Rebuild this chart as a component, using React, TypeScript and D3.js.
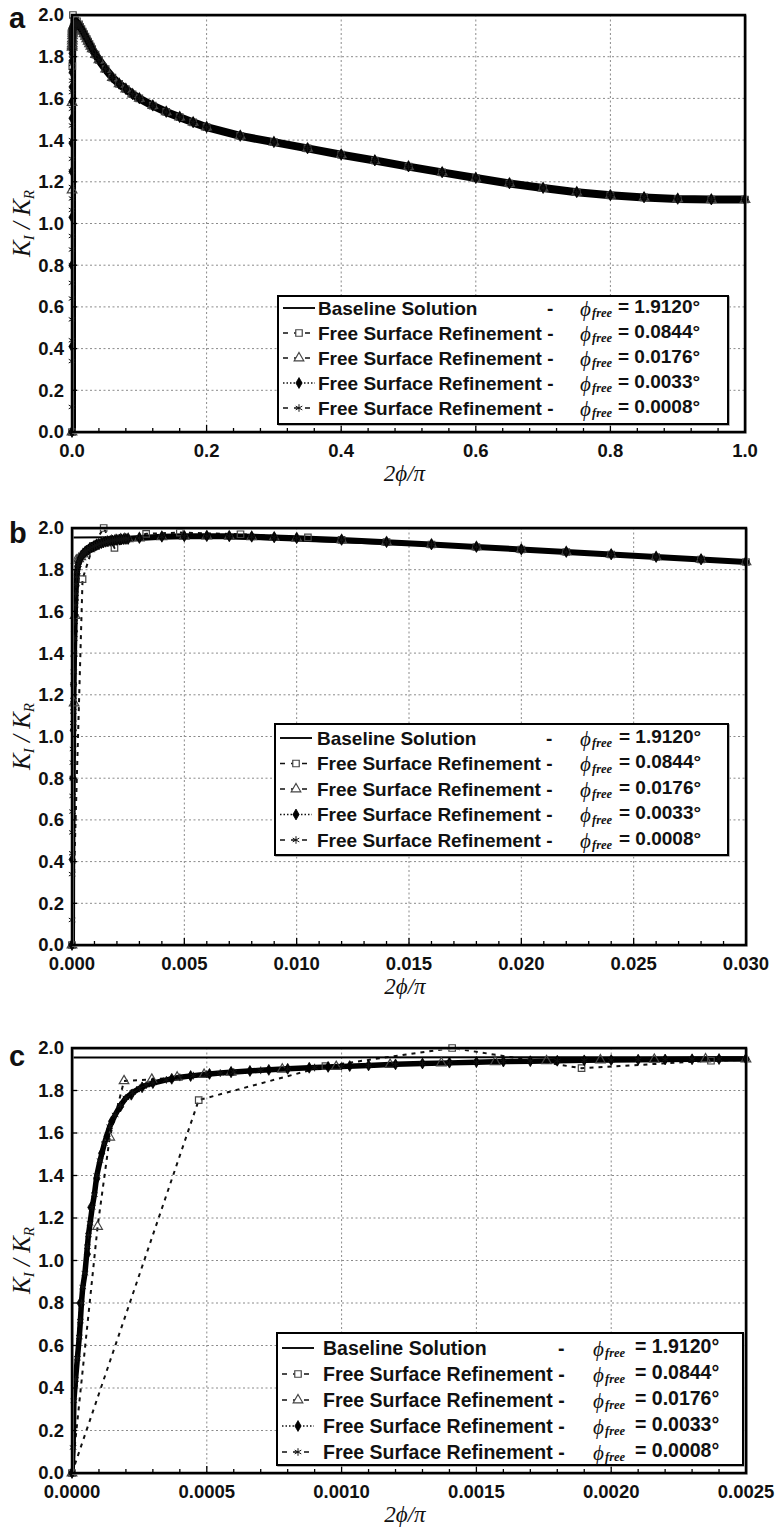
import React from 'react';
import * as d3 from 'd3';

// ---------- data (x = 2φ/π, y = K_I / K_R) ----------
// common far-field part of all solutions
const tailX = [0.0025, 0.003, 0.004, 0.005, 0.006, 0.007, 0.008, 0.009, 0.010, 0.012, 0.014, 0.016, 0.018, 0.020, 0.022, 0.024, 0.026, 0.028, 0.030, 0.035, 0.04, 0.05, 0.06, 0.07, 0.08, 0.09, 0.10, 0.12, 0.14, 0.16, 0.18, 0.20, 0.25, 0.30, 0.35, 0.40, 0.45, 0.50, 0.55, 0.60, 0.65, 0.70, 0.75, 0.80, 0.85, 0.90, 0.95, 1.00];
const tailY = [1.948, 1.952, 1.958, 1.960, 1.961, 1.960, 1.958, 1.955, 1.951, 1.943, 1.932, 1.921, 1.909, 1.897, 1.885, 1.873, 1.861, 1.849, 1.837, 1.81, 1.785, 1.74, 1.70, 1.67, 1.645, 1.62, 1.60, 1.565, 1.535, 1.51, 1.485, 1.462, 1.42, 1.39, 1.36, 1.33, 1.302, 1.273, 1.245, 1.218, 1.192, 1.17, 1.15, 1.135, 1.125, 1.118, 1.115, 1.115];

// near-tip values of each solution
const baselineX = [0, 0.0053, 0.0212];
const baselineY = [1.955, 1.958, 1.895];

const refine0844X = [0, 0.00047, 0.00094, 0.00141, 0.00189, 0.00237, 0.0033, 0.0048, 0.0075, 0.0105];
const refine0844Y = [0, 1.755, 1.915, 2.0, 1.905, 1.94, 1.972, 1.978, 1.97, 1.955];

const refine0176X = [0, 0.000095, 0.00014, 0.000193, 0.000296, 0.00039, 0.00049, 0.00059, 0.00078, 0.00098, 0.00118, 0.00137, 0.00157, 0.00176, 0.00196, 0.00216, 0.00235];
const refine0176Y = [0, 1.16, 1.58, 1.845, 1.852, 1.862, 1.875, 1.885, 1.9, 1.912, 1.922, 1.929, 1.935, 1.939, 1.943, 1.946, 1.948];

const refine0033X = [0, 0.000009, 0.00003, 0.000057, 0.00007, 0.000092, 0.00011, 0.00013, 0.000147, 0.00018, 0.00022, 0.00026, 0.0003, 0.00037, 0.00044, 0.00051, 0.00059, 0.00066, 0.00073, 0.0008, 0.00088, 0.00095, 0.00103, 0.0011, 0.0012, 0.0013, 0.0014, 0.0015, 0.0016, 0.0017, 0.0018, 0.0019, 0.002, 0.0021, 0.0022, 0.0023, 0.0024];
const refine0033Y = [0, 0.41, 0.80, 1.03, 1.25, 1.385, 1.505, 1.585, 1.655, 1.725, 1.78, 1.815, 1.835, 1.855, 1.868, 1.878, 1.886, 1.892, 1.897, 1.902, 1.907, 1.911, 1.915, 1.918, 1.923, 1.927, 1.931, 1.934, 1.936, 1.938, 1.94, 1.942, 1.943, 1.945, 1.946, 1.947, 1.948];

const refine0008X = [0, 0.000004, 0.000007, 0.000013, 0.00002, 0.000027, 0.000031, 0.000035, 0.00004, 0.000048, 0.000057, 0.000061, 0.000067, 0.000075, 0.000083, 0.000092, 0.000104, 0.00012, 0.00014, 0.00016, 0.00018, 0.0002, 0.000225, 0.00025, 0.000275, 0.0003, 0.00035, 0.0004, 0.00045, 0.0005, 0.00055, 0.0006, 0.0007, 0.0008, 0.0009, 0.001, 0.0011, 0.0012, 0.0013, 0.0014, 0.0015, 0.0016, 0.0017, 0.0018, 0.0019, 0.002, 0.0021, 0.0022, 0.0023, 0.0024];
const refine0008Y = [0, 0.12, 0.34, 0.44, 0.54, 0.64, 0.715, 0.80, 0.875, 0.94, 1.065, 1.12, 1.175, 1.25, 1.31, 1.40, 1.47, 1.55, 1.63, 1.685, 1.73, 1.765, 1.79, 1.81, 1.825, 1.835, 1.85, 1.862, 1.87, 1.877, 1.882, 1.887, 1.895, 1.902, 1.908, 1.913, 1.918, 1.923, 1.927, 1.93, 1.933, 1.936, 1.938, 1.94, 1.942, 1.943, 1.945, 1.946, 1.947, 1.948];

const legendLabels = ['Baseline Solution', 'Free Surface Refinement -', 'Free Surface Refinement -', 'Free Surface Refinement -', 'Free Surface Refinement -'];
const legendPhi = ['1.9120', '0.0844', '0.0176', '0.0033', '0.0008'];

const yTickValues = [0, 0.2, 0.4, 0.6, 0.8, 1.0, 1.2, 1.4, 1.6, 1.8, 2.0];
const xTicksA = [0, 0.2, 0.4, 0.6, 0.8, 1.0];
const xTicksB = [0, 0.005, 0.010, 0.015, 0.020, 0.025, 0.030];
const xTicksC = [0, 0.0005, 0.0010, 0.0015, 0.0020, 0.0025];

// ---------- helpers ----------
type Pt = [number, number];
function zip(xs: number[], ys: number[]): Pt[] {
  return xs.map((v, i) => [v, ys[i]] as Pt);
}
function withTail(xs: number[], ys: number[]): Pt[] {
  const tip = zip(xs, ys);
  const last = xs[xs.length - 1];
  const tail = zip(tailX, tailY).filter((p) => p[0] > last + 1e-9);
  return tip.concat(tail);
}

const seriesDefs = [
  { key: 'base', pts: withTail(baselineX, baselineY), dash: null as string | null, width: 2, marker: 'none' },
  { key: 's0844', pts: withTail(refine0844X, refine0844Y), dash: '4,5', width: 2, marker: 'square' },
  { key: 's0176', pts: withTail(refine0176X, refine0176Y), dash: '4,5', width: 2, marker: 'triangle' },
  { key: 's0033', pts: withTail(refine0033X, refine0033Y), dash: '1.5,2.5', width: 1.8, marker: 'diamond' },
  { key: 's0008', pts: withTail(refine0008X, refine0008Y), dash: '3,3', width: 1.3, marker: 'star' },
];

const SANS = "'Liberation Sans', Arial, Helvetica, sans-serif";
const SERIF = "'Liberation Serif', 'Times New Roman', 'DejaVu Serif', serif";

function markerPath(kind: string): string {
  const sym = d3.symbol();
  if (kind === 'square') return sym.type(d3.symbolSquare).size(42)() || '';
  if (kind === 'triangle') return sym.type(d3.symbolTriangle).size(40)() || '';
  if (kind === 'diamond') return sym.type(d3.symbolDiamond).size(34)() || '';
  if (kind === 'star') return sym.type(d3.symbolAsterisk).size(40)() || '';
  return '';
}

function Marker({ kind, cx, cy, legend }: { kind: string; cx: number; cy: number; legend?: boolean }) {
  const d = markerPath(kind);
  if (!d) return null;
  if (kind === 'square' || kind === 'triangle') {
    return <path d={d} transform={`translate(${cx},${cy})`} fill={legend ? '#fff' : 'none'} stroke="#444" strokeWidth={1.2} />;
  }
  if (kind === 'diamond') {
    return <path d={d} transform={`translate(${cx},${cy})`} fill="#000" stroke="#000" strokeWidth={0.8} />;
  }
  return <path d={d} transform={`translate(${cx},${cy})`} fill="none" stroke="#111" strokeWidth={1} />;
}

interface PanelCfg {
  id: string;
  letter: string;
  letterY: number;
  top: number;
  bottom: number;
  left: number;
  right: number;
  xMax: number;
  xTicks: number[];
  fmt: string;
  band: number;
  legend: { x: number; y: number; w: number; h: number; fs: number; labelDx: number; phiDx: number; eqDx: number; row0: number; rowH: number };
}

const panels: PanelCfg[] = [
  {
    id: 'a', letter: 'a', letterY: 28, top: 15, bottom: 432, left: 72, right: 745, xMax: 1.0, xTicks: xTicksA, fmt: '.1f', band: 8,
    legend: { x: 278, y: 296, w: 450, h: 128, fs: 19, labelDx: 40, phiDx: 302, eqDx: 340, row0: 12, rowH: 25 },
  },
  {
    id: 'b', letter: 'b', letterY: 543, top: 528, bottom: 945, left: 72, right: 746, xMax: 0.03, xTicks: xTicksB, fmt: '.3f', band: 6,
    legend: { x: 275, y: 724, w: 453, h: 131, fs: 19, labelDx: 42, phiDx: 305, eqDx: 344, row0: 14, rowH: 25.5 },
  },
  {
    id: 'c', letter: 'c', letterY: 1066, top: 1048, bottom: 1473, left: 72, right: 746, xMax: 0.0025, xTicks: xTicksC, fmt: '.4f', band: 5.5,
    legend: { x: 277, y: 1333, w: 466, h: 132, fs: 19.5, labelDx: 46, phiDx: 316, eqDx: 358, row0: 15, rowH: 26 },
  },
];

function Panel({ cfg }: { cfg: PanelCfg }) {
  const x = d3.scaleLinear().domain([0, cfg.xMax]).range([cfg.left, cfg.right]);
  const y = d3.scaleLinear().domain([0, 2]).range([cfg.bottom, cfg.top]);
  const line = d3.line<Pt>().x((d) => x(d[0])).y((d) => y(d[1]));
  const fmt = d3.format(cfg.fmt);
  const nMajor = cfg.xTicks.length - 1;
  const minor = d3.range(0, nMajor * 5 + 1).map((i) => (cfg.xMax * i) / (nMajor * 5));
  const clipId = `clip-${cfg.id}`;
  const L = cfg.legend;
  const finest = seriesDefs[4];
  const base = seriesDefs[0];

  return (
    <g>
      <defs>
        <clipPath id={clipId}>
          <rect x={cfg.left} y={cfg.top} width={cfg.right - cfg.left} height={cfg.bottom - cfg.top} />
        </clipPath>
      </defs>
      {/* grid */}
      <g stroke="#8a8a8a" strokeWidth={1} strokeDasharray="2,2.5">
        {yTickValues.filter((v) => v > 0 && v < 2).map((v) => (
          <line key={`gy${v}`} x1={cfg.left} x2={cfg.right} y1={y(v)} y2={y(v)} />
        ))}
        {cfg.xTicks.filter((v, i) => i > 0 && i < nMajor).map((v) => (
          <line key={`gx${v}`} x1={x(v)} x2={x(v)} y1={cfg.top} y2={cfg.bottom} />
        ))}
      </g>
      {/* series */}
      <g clipPath={`url(#${clipId})`} fill="none">
        {seriesDefs.slice(1).map((s) => (
          <path key={s.key} d={line(s.pts) || ''} stroke="#111" strokeWidth={s.width} strokeDasharray={s.dash || undefined} />
        ))}
        <path d={line(finest.pts) || ''} stroke="#000" strokeWidth={cfg.band} strokeLinejoin="round" strokeLinecap="round" />
        <path d={line(base.pts) || ''} stroke="#000" strokeWidth={base.width} />
      </g>
      <g>
        {seriesDefs.slice(1).map((s) =>
          s.pts
            .filter((p) => p[0] <= cfg.xMax * 1.0001)
            .map((p, i) => <Marker key={`${s.key}-${i}`} kind={s.marker} cx={x(p[0])} cy={y(p[1])} />)
        )}
      </g>
      {/* frame */}
      <rect x={cfg.left + 1} y={cfg.top + 1} width={cfg.right - cfg.left} height={cfg.bottom - cfg.top} fill="none" stroke="#9a9a9a" strokeWidth={1.5} />
      <rect x={cfg.left} y={cfg.top} width={cfg.right - cfg.left} height={cfg.bottom - cfg.top} fill="none" stroke="#000" strokeWidth={2.5} />
      {/* x ticks */}
      <g stroke="#000" strokeWidth={1.3}>
        {minor.map((v, i) => (
          <line key={`mt${i}`} x1={x(v)} x2={x(v)} y1={cfg.bottom} y2={cfg.bottom - (i % 5 === 0 ? 7 : 4)} />
        ))}
        {yTickValues.map((v) => (
          <line key={`yt${v}`} x1={cfg.left} x2={cfg.left + 5} y1={y(v)} y2={y(v)} />
        ))}
      </g>
      {/* tick labels */}
      <g fontFamily={SANS} fontWeight="bold" fontSize={18.5} fill="#111">
        {yTickValues.map((v) => (
          <text key={`yl${v}`} x={cfg.left - 8} y={y(v)} dy="0.35em" textAnchor="end">{d3.format('.1f')(v)}</text>
        ))}
        {cfg.xTicks.map((v) => (
          <text key={`xl${v}`} x={x(v)} y={cfg.bottom + 25} textAnchor="middle">{fmt(v)}</text>
        ))}
      </g>
      {/* axis titles */}
      <text x={(cfg.left + cfg.right) / 2 - 4} y={cfg.bottom + 49} textAnchor="middle" fontFamily={SERIF} fontStyle="italic" fontSize={23} fill="#111">2ϕ/π</text>
      <text transform={`translate(30,${(cfg.top + cfg.bottom) / 2}) rotate(-90)`} textAnchor="middle" fontFamily={SERIF} fontStyle="italic" fontSize={25} fill="#111">
        <tspan>K</tspan>
        <tspan fontSize={15} dy={4}>I</tspan>
        <tspan dy={-4}> / K</tspan>
        <tspan fontSize={15} dy={4}>R</tspan>
      </text>
      {/* panel letter */}
      <text x={9} y={cfg.letterY} fontFamily={SANS} fontWeight="bold" fontSize={29} fill="#111">{cfg.letter}</text>
      {/* legend */}
      <g>
        <rect x={L.x + 1} y={L.y + 1} width={L.w} height={L.h} fill="none" stroke="#999" strokeWidth={1.5} />
        <rect x={L.x} y={L.y} width={L.w} height={L.h} fill="#fff" stroke="#000" strokeWidth={2} />
        {seriesDefs.map((s, i) => {
          const cy = L.y + L.row0 + i * L.rowH;
          const sx1 = L.x + 5;
          const sx2 = L.x + 37;
          return (
            <g key={`lg${i}`}>
              <line x1={sx1} x2={sx2} y1={cy} y2={cy} stroke="#111" strokeWidth={s.dash ? 1.6 : 2} strokeDasharray={s.dash ? (s.marker === 'diamond' ? '1.5,2' : '5,6') : undefined} />
              <Marker kind={s.marker} cx={(sx1 + sx2) / 2} cy={cy} legend />
              <text x={L.x + L.labelDx} y={cy} dy="0.36em" fontFamily={SANS} fontWeight="bold" fontSize={L.fs} fill="#111">{legendLabels[i]}</text>
              {i === 0 ? (
                <text x={L.x + L.labelDx + 12.39 * L.fs} y={cy} dy="0.36em" textAnchor="end" fontFamily={SANS} fontWeight="bold" fontSize={L.fs} fill="#111">-</text>
              ) : null}
              <text x={L.x + L.phiDx} y={cy} dy="0.36em" fontFamily={SERIF} fontStyle="italic" fontSize={21} fill="#111">ϕ</text>
              <text x={L.x + L.phiDx + 12} y={cy + 9} fontFamily={SERIF} fontStyle="italic" fontWeight="bold" fontSize={12.5} fill="#111">free</text>
              <text x={L.x + L.eqDx} y={cy - 2} dy="0.36em" fontFamily={SANS} fontWeight="bold" fontSize={L.fs} fill="#111">{`= ${legendPhi[i]}°`}</text>
            </g>
          );
        })}
      </g>
    </g>
  );
}

export default function App() {
  return (
    <svg width={778} height={1528} viewBox="0 0 778 1528" style={{ position: 'absolute', left: 0, top: 0, background: '#fff' }}>
      <rect x={0} y={0} width={778} height={1528} fill="#fff" />
      {panels.map((p) => (
        <Panel key={p.id} cfg={p} />
      ))}
    </svg>
  );
}
